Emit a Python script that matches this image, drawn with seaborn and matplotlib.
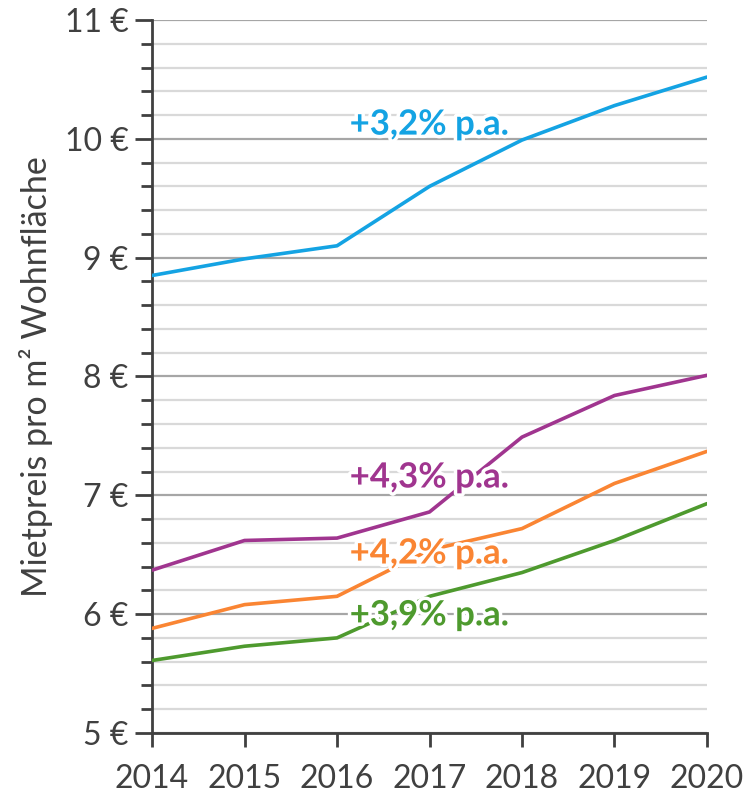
import numpy as np
import pandas as pd
import seaborn as sns
from matplotlib import pyplot as plt
from matplotlib import patheffects as pe
from matplotlib.ticker import MultipleLocator, FuncFormatter

years = [2014, 2015, 2016, 2017, 2018, 2019, 2020]
blue = [8.85, 8.99, 9.10, 9.60, 9.99, 10.28, 10.52]
purple = [6.37, 6.62, 6.64, 6.86, 7.49, 7.84, 8.01]
orange = [5.88, 6.08, 6.15, 6.54, 6.72, 7.10, 7.37]
green = [5.61, 5.73, 5.80, 6.15, 6.35, 6.62, 6.93]

series_names = ['blau', 'lila', 'orange', 'gruen']
series_colors = ['#14A3E3', '#A0358F', '#FA8533', '#4E9A2E']
labels = ['+3,2% p.a.', '+4,3% p.a.', '+4,2% p.a.', '+3,9% p.a.']
label_y = [10.12, 7.15, 6.51, 5.99]

df = pd.DataFrame({
    'Jahr': years * 4,
    'Preis': blue + purple + orange + green,
    'Reihe': np.repeat(series_names, len(years)),
})

sns.set_style('white')
plt.rcParams['font.family'] = ['Lato', 'DejaVu Sans']

fig = plt.figure(figsize=(7.46, 7.98), dpi=100)
ax = fig.add_axes([0.2038, 0.0815, 0.7439, 0.8934])

sns.lineplot(data=df, x='Jahr', y='Preis', hue='Reihe', palette=series_colors,
             linewidth=2.6, legend=False, ax=ax, zorder=3)

ax.set_xlim(2014, 2020)
ax.set_ylim(5, 11)
ax.set_xticks(years)
ax.yaxis.set_major_locator(MultipleLocator(1))
ax.yaxis.set_minor_locator(MultipleLocator(0.2))
ax.yaxis.set_major_formatter(FuncFormatter(lambda v, p: f'{v:.0f} €'))

ax.grid(which='major', axis='y', color='#A6A6A6', linewidth=1.6, zorder=1)
ax.grid(which='minor', axis='y', color='#D9D9D9', linewidth=1.6, zorder=1)
ax.grid(False, axis='x')

for s in ['top', 'right']:
    ax.spines[s].set_visible(False)
for s in ['left', 'bottom']:
    ax.spines[s].set_color('#404040')
    ax.spines[s].set_linewidth(2)

ax.tick_params(axis='y', which='major', direction='out', length=12, width=2,
               color='#404040', labelsize=23, labelcolor='#404040', pad=5, left=True)
ax.tick_params(axis='y', which='minor', direction='out', length=8, width=2,
               color='#404040', left=True)
ax.tick_params(axis='x', which='major', direction='out', length=10, width=2,
               color='#404040', labelsize=23, labelcolor='#404040', pad=12, bottom=True)

ax.set_xlabel('')
ax.set_ylabel('Mietpreis pro m² Wohnfläche', fontsize=24.5, color='#404040', labelpad=8)

for txt, yy, col in zip(labels, label_y, series_colors):
    ax.text(2017, yy, txt, ha='center', va='center', fontsize=25, fontweight='bold',
            color=col, zorder=5,
            path_effects=[pe.withStroke(linewidth=5, foreground='white')])

fig.savefig('out.png', dpi=100)
